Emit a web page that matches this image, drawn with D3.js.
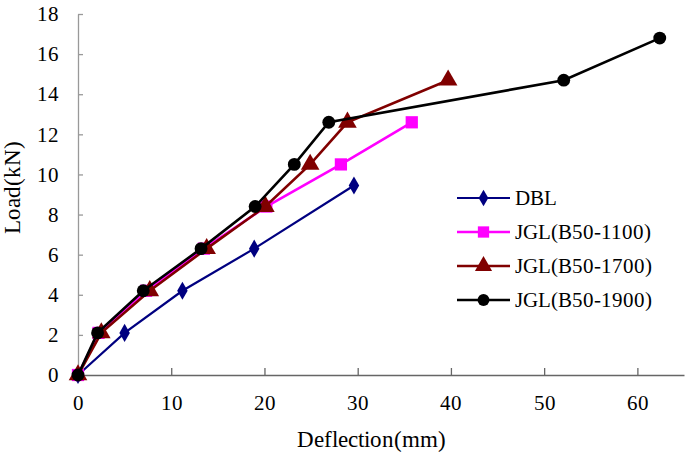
<!DOCTYPE html>
<html><head><meta charset="utf-8">
<script src="https://cdn.jsdelivr.net/npm/d3@7"></script>
<style>
@font-face{font-family:"ChartSerif";src:local("Liberation Serif"),local("LiberationSerif"),local("Times New Roman");}
body{margin:0;background:#fff}svg{display:block}
</style>
</head><body>
<svg id="c" width="685" height="456"></svg>
<script>
const seriesNames = ["DBL","JGL(B50-1100)","JGL(B50-1700)","JGL(B50-1900)"];
const dblX = [0,5.0,11.2,18.9,29.6];
const dblY = [0,2.1,4.2,6.3,9.45];
const j1100X = [0,2.2,7.3,13.5,20.2,28.2,35.8];
const j1100Y = [0,2.1,4.2,6.3,8.4,10.5,12.6];
const j1700X = [0,2.5,7.7,13.8,20.1,24.9,28.9,39.7];
const j1700Y = [0,2.1,4.2,6.3,8.4,10.5,12.6,14.7];
const j1900X = [0,2.1,7.0,13.2,19.0,23.2,26.9,52.1,62.4];
const j1900Y = [0,2.1,4.2,6.3,8.4,10.5,12.6,14.7,16.8];
const xTicks = [0,10,20,30,40,50,60];
const yTicks = [0,2,4,6,8,10,12,14,16,18];
const colors = ["#000080","#FF00FF","#800000","#000000"];
const shapes = [d3.symbolDiamond, d3.symbolSquare, d3.symbolTriangle, d3.symbolCircle];
const symSizes = [95, 150, 150, 130];
const lineWidths = [2.2, 2.6, 2.6, 2.6];
const FONT = '"ChartSerif", "Liberation Serif", serif';

const svg = d3.select("#c");
const x = d3.scaleLinear().domain([0,65]).range([78,684]);
const y = d3.scaleLinear().domain([0,18]).range([375,14]);

// axes
const xAxis = svg.append("g").attr("transform","translate(0,375)")
  .call(d3.axisBottom(x).tickValues(xTicks).tickSizeInner(-7).tickSizeOuter(0).tickPadding(20));
xAxis.attr("font-family",FONT).attr("font-size",21);
xAxis.select(".domain").attr("stroke","#666").attr("stroke-width",1.3);
xAxis.selectAll(".tick line").attr("stroke","#666").attr("stroke-width",1.3);
xAxis.selectAll("text").style("font-size","21px").style("font-family",FONT).attr("fill","#000");

const yAxis = svg.append("g").attr("transform","translate(78,0)")
  .call(d3.axisLeft(y).tickValues(yTicks).tickSizeInner(-5).tickSizeOuter(0).tickPadding(19));
yAxis.attr("font-family",FONT).attr("font-size",21);
yAxis.select(".domain").attr("stroke","#999").attr("stroke-width",1.3);
yAxis.selectAll(".tick line").attr("stroke","#999").attr("stroke-width",1.3);
yAxis.selectAll("text").style("font-size","21px").style("font-family",FONT).attr("fill","#000");

svg.append("text").attr("x",371).attr("y",447).attr("text-anchor","middle")
  .style("font-size","22.5px").style("font-family",FONT).text("Deflection(mm)");
svg.append("text").attr("transform","translate(20,187) rotate(-90)").attr("text-anchor","middle")
  .style("font-size","22.5px").style("font-family",FONT).text("Load(kN)");

const data = [
  d3.zip(dblX,dblY), d3.zip(j1100X,j1100Y), d3.zip(j1700X,j1700Y), d3.zip(j1900X,j1900Y)
];
const line = d3.line().x(d=>x(d[0])).y(d=>y(d[1]));
data.forEach((pts,i)=>{
  const g = svg.append("g");
  g.append("path").attr("d",line(pts)).attr("fill","none").attr("stroke",colors[i]).attr("stroke-width",lineWidths[i]);
  g.selectAll("path.m").data(pts).enter().append("path").attr("class","m")
    .attr("d",d3.symbol().type(shapes[i]).size(symSizes[i]))
    .attr("transform",d=>`translate(${x(d[0])},${y(d[1])})`)
    .attr("fill",colors[i]);
});

// legend
const lg = svg.append("g");
seriesNames.forEach((n,i)=>{
  const yy = 198 + i*34;
  lg.append("line").attr("x1",457).attr("x2",510).attr("y1",yy).attr("y2",yy).attr("stroke",colors[i]).attr("stroke-width",lineWidths[i]);
  lg.append("path").attr("d",d3.symbol().type(shapes[i]).size(symSizes[i]*0.85)())
    .attr("transform",`translate(483.5,${yy})`).attr("fill",colors[i]);
  lg.append("text").attr("x",515).attr("y",yy+7).style("font-size","21px").style("font-family",FONT).text(n);
});
</script>
</body></html>
